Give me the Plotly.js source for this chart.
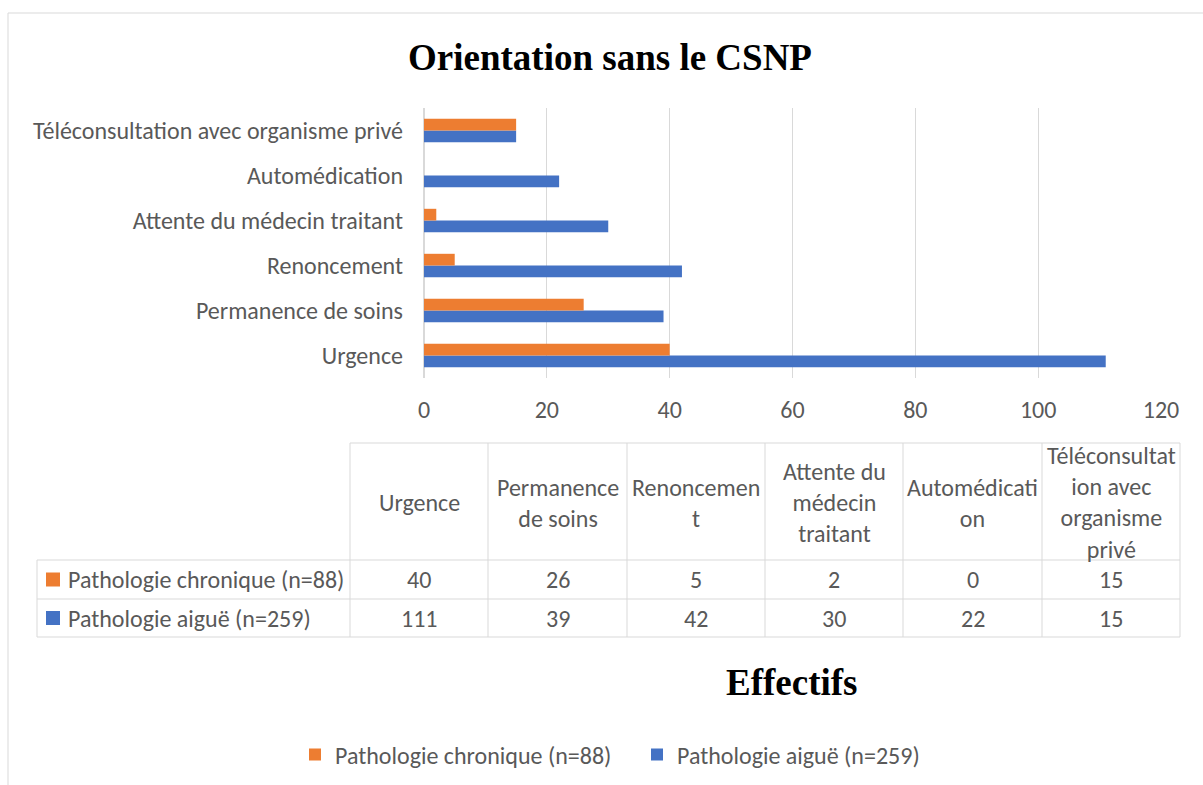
<!DOCTYPE html>
<html>
<head>
<meta charset="utf-8">
<script src="https://cdn.plot.ly/plotly-3.0.1.min.js"></script>
<style>html,body{margin:0;padding:0;background:#fff;}#chart{width:1203px;height:785px;}</style>
</head>
<body>
<div id="chart"></div>
<script>
// ---- data ----
const categories = ['Urgence', 'Permanence de soins', 'Renoncement', 'Attente du médecin traitant', 'Automédication', 'Téléconsultation avec organisme privé'];
const chronique = [40, 26, 5, 2, 0, 15];
const aigue = [111, 39, 42, 30, 22, 15];
const seriesNames = ['Pathologie chronique (n=88)', 'Pathologie aiguë (n=259)'];
const tableHeaders = ['Urgence', 'Permanence<br>de soins', 'Renoncemen<br>t', 'Attente du<br>médecin<br>traitant', 'Automédicati<br>on', 'Téléconsultat<br>ion avec<br>organisme<br>privé'];
const xTicks = [0, 20, 40, 60, 80, 100, 120];

const ORANGE = '#ED7D31', BLUE = '#4472C4', GRID = '#d9d9d9', TXT = '#595959';
const FONT = 'Carlito, Calibri, Lato, sans-serif';
const SERIF = '"Liberation Serif", "Times New Roman", serif';
const FS = 24;

// plot area in pixels
const PX0 = 424, PX1 = 1161, PY0 = 108, PY1 = 378;
const px = x => (x - PX0) / (PX1 - PX0);
const py = y => (PY1 - y) / (PY1 - PY0);

const shapes = [];
const annotations = [];
function hline(x0, x1, y, color) { shapes.push({type: 'line', xref: 'paper', yref: 'paper', x0: px(x0), x1: px(x1), y0: py(y), y1: py(y), line: {color: color || GRID, width: 1}}); }
function vline(x, y0, y1, color) { shapes.push({type: 'line', xref: 'paper', yref: 'paper', x0: px(x), x1: px(x), y0: py(y0), y1: py(y1), line: {color: color || GRID, width: 1}}); }
function text(t, x, y, opts) {
  annotations.push(Object.assign({text: t, xref: 'paper', yref: 'paper', x: px(x), y: py(y), showarrow: false,
    xanchor: 'center', yanchor: 'middle', font: {family: FONT, size: FS, color: TXT}}, opts || {}));
}

// outer chart border
hline(8, 1210, 13);
vline(8, 13, 800);

// data table
const colL = [37, 350, 488, 627, 765, 903, 1042, 1180];
const rowY = [443, 560, 599, 637];
hline(colL[1], colL[7], rowY[0]);
hline(colL[0], colL[7], rowY[1]);
hline(colL[0], colL[7], rowY[2]);
hline(colL[0], colL[7], rowY[3]);
vline(colL[0], rowY[1], rowY[3]);
for (let i = 1; i < colL.length; i++) vline(colL[i], rowY[0], rowY[3]);

const rows = [chronique, aigue];
const rowColors = [ORANGE, BLUE];
for (let c = 0; c < categories.length; c++) {
  const cx = (colL[c + 1] + colL[c + 2]) / 2;
  text(tableHeaders[c], cx, (rowY[0] + rowY[1]) / 2 + 1);
  for (let r = 0; r < 2; r++) {
    text(String(rows[r][c]), cx, (rowY[r + 1] + rowY[r + 2]) / 2);
  }
}
for (let r = 0; r < 2; r++) {
  const cy = (rowY[r + 1] + rowY[r + 2]) / 2;
  shapes.push({type: 'rect', xref: 'paper', yref: 'paper', x0: px(46), x1: px(60), y0: py(cy + 7), y1: py(cy - 7),
    fillcolor: rowColors[r], line: {width: 0}});
  text(seriesNames[r], 66, cy, {xanchor: 'left'});
}

// axis title
text('<b>Effectifs</b>', 792, 682, {font: {family: SERIF, size: 37, color: '#000'}});

const traces = [
  {type: 'bar', orientation: 'h', name: seriesNames[1], y: categories, x: aigue, marker: {color: BLUE}, hoverinfo: 'x+name'},
  {type: 'bar', orientation: 'h', name: seriesNames[0], y: categories, x: chronique, marker: {color: ORANGE}, hoverinfo: 'x+name'}
];

const layout = {
  width: 1203, height: 785,
  margin: {l: PX0, r: 1203 - PX1, t: PY0, b: 785 - PY1, pad: 0, autoexpand: false},
  paper_bgcolor: '#fff', plot_bgcolor: '#fff',
  barmode: 'group', bargap: 0.48, bargroupgap: 0,
  title: {text: '<b>Orientation sans le CSNP</b>', font: {family: SERIF, size: 37, color: '#000'},
    x: 610 / 1203, xref: 'container', xanchor: 'center', y: 1 - 57 / 785, yref: 'container', yanchor: 'middle'},
  xaxis: {range: [0, 120], tickvals: xTicks, showgrid: true, gridcolor: GRID, gridwidth: 1,
    zeroline: true, zerolinecolor: GRID, zerolinewidth: 1.5, showline: false, ticks: '',
    tickfont: {family: FONT, size: FS, color: TXT}, ticklabelstandoff: 15, fixedrange: true},
  yaxis: {type: 'category', categoryorder: 'array', categoryarray: categories, showgrid: false, zeroline: false,
    showline: false, ticks: '', tickfont: {family: FONT, size: FS, color: TXT}, ticklabelstandoff: 20, fixedrange: true},
  showlegend: true,
  legend: {orientation: 'h', traceorder: 'reversed', x: px(295), xanchor: 'left', y: py(755), yanchor: 'middle',
    entrywidth: 297, entrywidthmode: 'pixels',
    font: {family: FONT, size: FS, color: TXT}, bgcolor: 'rgba(0,0,0,0)'},
  shapes: shapes,
  annotations: annotations
};

Plotly.newPlot('chart', traces, layout, {displayModeBar: false, staticPlot: true});
</script>
</body>
</html>
